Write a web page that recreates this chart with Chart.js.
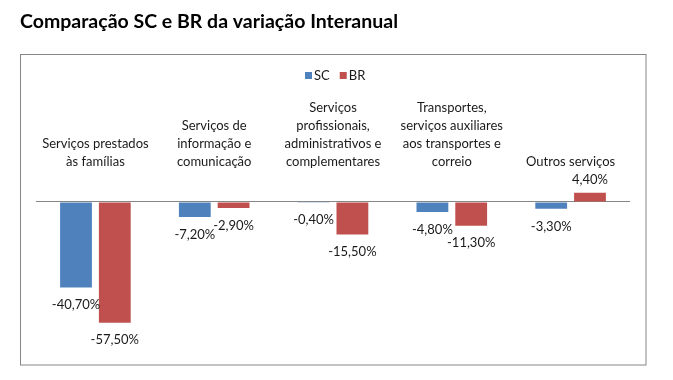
<!DOCTYPE html>
<html>
<head>
<meta charset="utf-8">
<script src="https://cdn.jsdelivr.net/npm/chart.js@4"></script>
<style>
  body { margin: 0; background: #fff; }
  #wrap { width: 673px; height: 380px; }
</style>
</head>
<body>
<div id="wrap"><canvas id="grafico" width="673" height="380"></canvas></div>
<script>
// Dados do gráfico
const categorias = [
  ['Serviços prestados', 'às famílias'],
  ['Serviços de', 'informação e', 'comunicação'],
  ['Serviços', 'profissionais,', 'administrativos e', 'complementares'],
  ['Transportes,', 'serviços auxiliares', 'aos transportes e', 'correio'],
  'Outros serviços'
];
const valoresSC = [-40.7, -7.2, -0.4, -4.8, -3.3];
const valoresBR = [-57.5, -2.9, -15.5, -11.3, 4.4];

const FONTE = 'Lato, "Open Sans", sans-serif';
const COR_TEXTO = '#1a1a1a';

// Moldura da área do gráfico e legenda
const moldura = {
  id: 'moldura',
  beforeDraw(chart) {
    const ctx = chart.ctx;
    ctx.save();
    ctx.fillStyle = '#fff';
    ctx.fillRect(0, 0, chart.width, chart.height);
    ctx.strokeStyle = '#868686';
    ctx.lineWidth = 1;
    ctx.strokeRect(20.5, 54.5, 625.5, 310.5);

    // legenda (mesmo estilo do Excel: quadrado colado ao texto)
    ctx.font = '13px ' + FONTE;
    ctx.textBaseline = 'middle';
    ctx.textAlign = 'left';
    let x = 305;
    chart.data.datasets.forEach(ds => {
      ctx.fillStyle = ds.backgroundColor;
      ctx.fillRect(x, 72, 7, 7);
      ctx.fillStyle = COR_TEXTO;
      ctx.fillText(ds.label, x + 9, 76);
      x += 9 + ctx.measureText(ds.label).width + 10;
    });
    ctx.restore();
  }
};

// Rótulos de dados nas pontas das barras
const rotulos = {
  id: 'rotulos',
  afterDatasetsDraw(chart) {
    const ctx = chart.ctx;
    ctx.save();
    ctx.font = '13px ' + FONTE;
    ctx.fillStyle = COR_TEXTO;
    ctx.textAlign = 'center';
    chart.data.datasets.forEach((ds, i) => {
      chart.getDatasetMeta(i).data.forEach((bar, j) => {
        const v = ds.data[j];
        const txt = v.toFixed(2).replace('.', ',') + '%';
        if (v < 0) {
          ctx.textBaseline = 'top';
          ctx.fillText(txt, bar.x, bar.y + 11);
        } else {
          ctx.textBaseline = 'bottom';
          ctx.fillText(txt, bar.x, bar.y - 6);
        }
      });
    });
    ctx.restore();
  }
};

new Chart(document.getElementById('grafico'), {
  type: 'bar',
  data: {
    labels: categorias,
    datasets: [
      { label: 'SC', data: valoresSC, backgroundColor: '#4F81BD',
        categoryPercentage: 0.653, barPercentage: 0.82 },
      { label: 'BR', data: valoresBR, backgroundColor: '#C0504D',
        categoryPercentage: 0.653, barPercentage: 0.82 }
    ]
  },
  options: {
    responsive: false,
    animation: false,
    layout: { padding: { left: 20, right: 43, top: 0, bottom: 31 } },
    plugins: {
      title: {
        display: true,
        text: 'Comparação SC e BR da variação Interanual',
        align: 'start',
        color: '#000',
        font: { family: FONTE, size: 19.5, weight: 'bold', lineHeight: 1.2 },
        padding: { top: 10, bottom: 16 }
      },
      legend: { display: false },
      tooltip: { enabled: false }
    },
    scales: {
      x: {
        position: 'top',
        grid: { display: false, drawTicks: false },
        border: { display: false },
        ticks: {
          autoSkip: false, maxRotation: 0, minRotation: 0,
          color: COR_TEXTO,
          font: { family: FONTE, size: 13, lineHeight: 1.37 },
          padding: 0
        },
        afterFit(s) { s.height = 121; }
      },
      y: {
        min: -70, max: 15,
        ticks: { display: false, stepSize: 5 },
        border: { display: false },
        grid: {
          drawTicks: false,
          color: c => (c.tick && c.tick.value === 0) ? '#868686' : 'rgba(0,0,0,0)'
        },
        afterFit(s) { s.width = 16; }
      }
    }
  },
  plugins: [moldura, rotulos]
});
</script>
</body>
</html>
